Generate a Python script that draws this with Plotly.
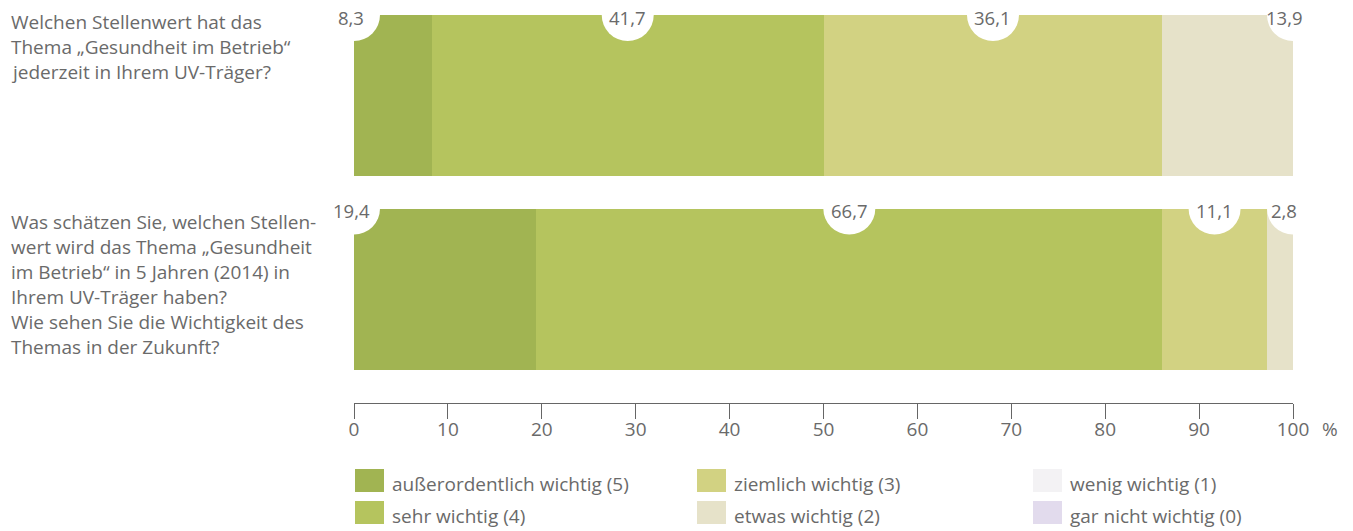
import plotly.graph_objects as go

# Survey data: share of answers (%) per importance level
questions_top = ["Welchen Stellenwert hat das",
                 "Thema \u201eGesundheit im Betrieb\u201c",
                 "jederzeit in Ihrem UV-Tr\u00e4ger?"]
questions_bottom = ["Was sch\u00e4tzen Sie, welchen Stellen-",
                    "wert wird das Thema \u201eGesundheit",
                    "im Betrieb\u201c in 5 Jahren (2014) in",
                    "Ihrem UV-Tr\u00e4ger haben?",
                    "Wie sehen Sie die Wichtigkeit des",
                    "Themas in der Zukunft?"]

levels = ["au\u00dferordentlich wichtig (5)", "sehr wichtig (4)",
          "ziemlich wichtig (3)", "etwas wichtig (2)",
          "wenig wichtig (1)", "gar nicht wichtig (0)"]
colors = ["#a1b452", "#b5c45e", "#d2d282", "#e6e2c9", "#f3f2f4", "#e2dbed"]

# values per level (5 .. 0): today and in 5 years
now_values = [8.3, 41.7, 36.1, 13.9, 0.0, 0.0]
future_values = [19.4, 66.7, 11.1, 2.8, 0.0, 0.0]

tick_vals = list(range(0, 101, 10))
tick_text = [str(v) for v in tick_vals]

FONT = "Open Sans"
TEXT_COL = "#6a6a6a"
TXT_SIZE = 19

W, H = 1353, 531
L, R, T, B = 354, 60, 0, 128
PW, PH = W - L - R, H - T - B
BAR_W = 0.832
Y_RANGE = [-0.589, 1.4935]


def px_x(p):
    return (p - L) / PW


def px_y(p):
    return (H - B - p) / PH


fig = go.Figure()
for i, name in enumerate(levels):
    fig.add_trace(go.Bar(
        y=[1, 0], x=[now_values[i], future_values[i]],
        orientation="h", width=BAR_W, name=name,
        marker=dict(color=colors[i], line=dict(width=0)),
        showlegend=False, hoverinfo="x+name",
    ))

shapes = []
annotations = []
R_CUT = 26


def label_bar(values, yc):
    top = yc + BAR_W / 2
    nonzero = [(i, v) for i, v in enumerate(values) if v > 0]
    start = 0.0
    for k, (i, v) in enumerate(nonzero):
        if k == 0:
            cx, xs = 0.0, -3
        elif k == len(nonzero) - 1:
            cx, xs = 100.0, -9
        else:
            cx, xs = start + v / 2, 0
        shapes.append(dict(
            type="circle", xref="x", yref="y", xsizemode="pixel",
            ysizemode="pixel", xanchor=cx, yanchor=top,
            x0=-R_CUT, x1=R_CUT, y0=-R_CUT, y1=R_CUT,
            fillcolor="white", line=dict(width=0), layer="above"))
        annotations.append(dict(
            x=cx, y=top, xref="x", yref="y", xshift=xs, yshift=-2,
            text=f"{v:.1f}".replace(".", ","), showarrow=False,
            font=dict(family=FONT, size=18.5, color=TEXT_COL),
            xanchor="center", yanchor="middle"))
        start += v


label_bar(now_values, 1)
label_bar(future_values, 0)

# question texts on the left
for j, line in enumerate(questions_top):
    annotations.append(dict(
        x=px_x(9), y=px_y(22 + 25 * j), xref="paper", yref="paper",
        text=line, showarrow=False, xanchor="left", yanchor="middle",
        font=dict(family=FONT, size=TXT_SIZE, color=TEXT_COL)))
for j, line in enumerate(questions_bottom):
    annotations.append(dict(
        x=px_x(9), y=px_y(222 + 25 * j), xref="paper", yref="paper",
        text=line, showarrow=False, xanchor="left", yanchor="middle",
        font=dict(family=FONT, size=TXT_SIZE, color=TEXT_COL)))

# percent sign after the axis
annotations.append(dict(
    x=px_x(1330), y=px_y(429), xref="paper", yref="paper", text="%",
    showarrow=False, xanchor="center", yanchor="middle",
    font=dict(family=FONT, size=19, color=TEXT_COL)))

# legend: three columns, two rows
legend_cols = [355, 697, 1033]
legend_rows = [469, 501]
for i, name in enumerate(levels):
    col, row = i // 2, i % 2
    x0 = legend_cols[col]
    y0 = legend_rows[row]
    shapes.append(dict(
        type="rect", xref="paper", yref="paper",
        x0=px_x(x0), x1=px_x(x0 + 29), y0=px_y(y0), y1=px_y(y0 + 23),
        fillcolor=colors[i], line=dict(width=0)))
    annotations.append(dict(
        x=px_x(x0 + 35), y=px_y(y0 + 15), xref="paper", yref="paper",
        text=name, showarrow=False, xanchor="left", yanchor="middle",
        font=dict(family=FONT, size=TXT_SIZE, color=TEXT_COL)))

fig.update_layout(
    width=W, height=H, margin=dict(l=L, r=R, t=T, b=B),
    paper_bgcolor="white", plot_bgcolor="white",
    barmode="stack", bargap=0,
    shapes=shapes, annotations=annotations,
    xaxis=dict(range=[0, 100], tickvals=tick_vals, ticktext=tick_text,
               showgrid=False, zeroline=False, showline=True,
               linecolor="#666666", linewidth=1, ticks="outside",
               ticklen=15, tickcolor="#666666", tickwidth=1,
               ticklabelstandoff=-6,
               tickfont=dict(family=FONT, size=19, color=TEXT_COL)),
    yaxis=dict(range=Y_RANGE, visible=False, showgrid=False,
               zeroline=False),
)

fig.write_html("out.html")
